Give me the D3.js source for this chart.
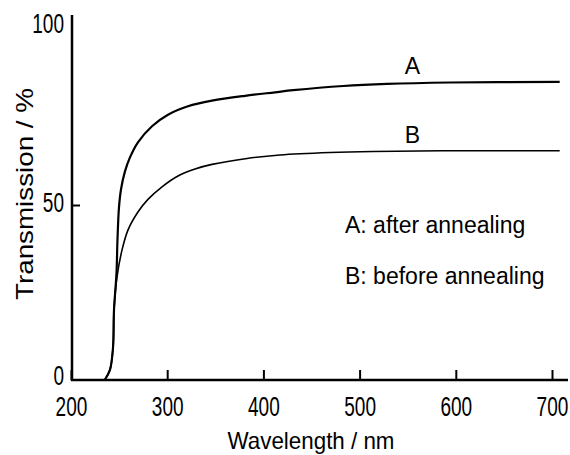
<!DOCTYPE html>
<html>
<head>
<meta charset="utf-8">
<script src="https://cdn.jsdelivr.net/npm/d3@7"></script>
<style>
  body { margin: 0; background: #fff; }
  svg { display: block; }
  text { font-family: "Liberation Sans", Arial, sans-serif; fill: #000; }
</style>
</head>
<body>
<svg id="chart" width="570" height="455"></svg>
<script>
// Transmission spectra of the film (wavelength in nm, transmission in %)
const wavelengthA = [235, 240.5, 243.7, 244.7, 247.3, 248.3, 249.9, 252, 256.1, 261.3, 269.6, 284.2, 300.8, 321.6, 346.6, 380.9, 412, 431, 483, 528.5, 594, 708];
const transmissionA = [0, 2.9, 9.4, 20, 30.6, 40, 49.4, 54.5, 59.6, 63.6, 67.9, 72.5, 75.8, 78.2, 79.8, 81.2, 82.2, 82.8, 84, 84.6, 85, 85.2];
const wavelengthB = [235, 240.5, 243.7, 244.7, 247.8, 253, 259.3, 269.6, 280, 294.6, 311.2, 328.9, 346.6, 383, 417.3, 469.2, 513.9, 600, 708];
const transmissionB = [0, 2.9, 9.4, 20, 29.4, 37.1, 42.9, 48.0, 51.6, 55.2, 58.3, 60.3, 61.6, 63.3, 64.3, 65.0, 65.3, 65.5, 65.5];

const xTicks = [200, 300, 400, 500, 600, 700];
const yTicks = [0, 50, 100];
const curveNames = ["A", "B"];
const legendLines = ["A: after annealing", "B: before annealing"];
const xTitle = "Wavelength / nm";
const yTitle = "Transmission / %";

const svg = d3.select("#chart");

const x = d3.scaleLinear().domain([200, 700]).range([71, 552]);
const y = d3.scaleLinear().domain([0, 100]).range([380, 30]);

const digitScale = 0.68; // condensed tick numerals

// axis lines (extend past the last tick)
svg.append("line")
  .attr("x1", x(200)).attr("x2", 568)
  .attr("y1", y(0)).attr("y2", y(0))
  .attr("stroke", "#000").attr("stroke-width", 2.5);
svg.append("line")
  .attr("x1", x(200) + 1).attr("x2", x(200) + 1)
  .attr("y1", y(0) + 1).attr("y2", 15)
  .attr("stroke", "#000").attr("stroke-width", 2.5);

// x axis ticks (inward) and labels
const gx = svg.append("g")
  .attr("transform", `translate(0,${y(0)})`)
  .call(d3.axisBottom(x).tickValues(xTicks).tickSizeInner(-10).tickSizeOuter(0).tickPadding(0));
gx.select(".domain").remove();
gx.selectAll(".tick line").attr("stroke", "#000").attr("stroke-width", 2);
gx.selectAll(".tick text")
  .attr("y", 36).attr("dy", null)
  .attr("transform", `scale(${digitScale},1)`)
  .style("font-size", "28px")
  .style("font-family", "'Liberation Sans', Arial, sans-serif");

// y axis ticks (inward) and labels
const yLabelShift = { 0: 4, 50: 6, 100: 2 };
const gy = svg.append("g")
  .attr("transform", `translate(${x(200) + 1},0)`)
  .call(d3.axisLeft(y).tickValues(yTicks).tickSizeInner(-8).tickSizeOuter(0).tickPadding(0));
gy.select(".domain").remove();
gy.selectAll(".tick line")
  .attr("stroke", "#000").attr("stroke-width", 2)
  .attr("display", d => (d === 0 || d === 100) ? "none" : null);
gy.selectAll(".tick text")
  .attr("x", -8 / digitScale).attr("dy", d => yLabelShift[d])
  .attr("text-anchor", "end")
  .attr("transform", `scale(${digitScale},1)`)
  .style("font-size", "28px")
  .style("font-family", "'Liberation Sans', Arial, sans-serif");

// spectra
const line = d3.line()
  .x(d => x(d[0]))
  .y(d => y(d[1]))
  .curve(d3.curveCatmullRom.alpha(0.5));

const seriesA = wavelengthA.map((w, i) => [w, transmissionA[i]]);
const seriesB = wavelengthB.map((w, i) => [w, transmissionB[i]]);

svg.append("path").datum(seriesB)
  .attr("d", line).attr("fill", "none")
  .attr("stroke", "#000").attr("stroke-width", 1.6);
svg.append("path").datum(seriesA)
  .attr("d", line).attr("fill", "none")
  .attr("stroke", "#000").attr("stroke-width", 2.2);

// curve letters above each plateau
const labelAt = 555;
[seriesA, seriesB].forEach((s, i) => {
  const last = s[s.length - 1][1];
  svg.append("text")
    .attr("x", x(labelAt)).attr("y", y(last) - 8)
    .attr("text-anchor", "middle")
    .style("font-size", "23px")
    .text(curveNames[i]);
});

// legend
legendLines.forEach((t, i) => {
  svg.append("text")
    .attr("x", 345).attr("y", 233 + i * 51)
    .style("font-size", "23px")
    .text(t);
});

// axis titles
svg.append("text")
  .attr("x", 311).attr("y", 449)
  .attr("text-anchor", "middle")
  .attr("textLength", 167).attr("lengthAdjust", "spacingAndGlyphs")
  .style("font-size", "24px")
  .text(xTitle);

svg.append("text")
  .attr("transform", "translate(33,194) rotate(-90)")
  .attr("text-anchor", "middle")
  .attr("textLength", 212).attr("lengthAdjust", "spacingAndGlyphs")
  .style("font-size", "24px")
  .text(yTitle);
</script>
</body>
</html>
